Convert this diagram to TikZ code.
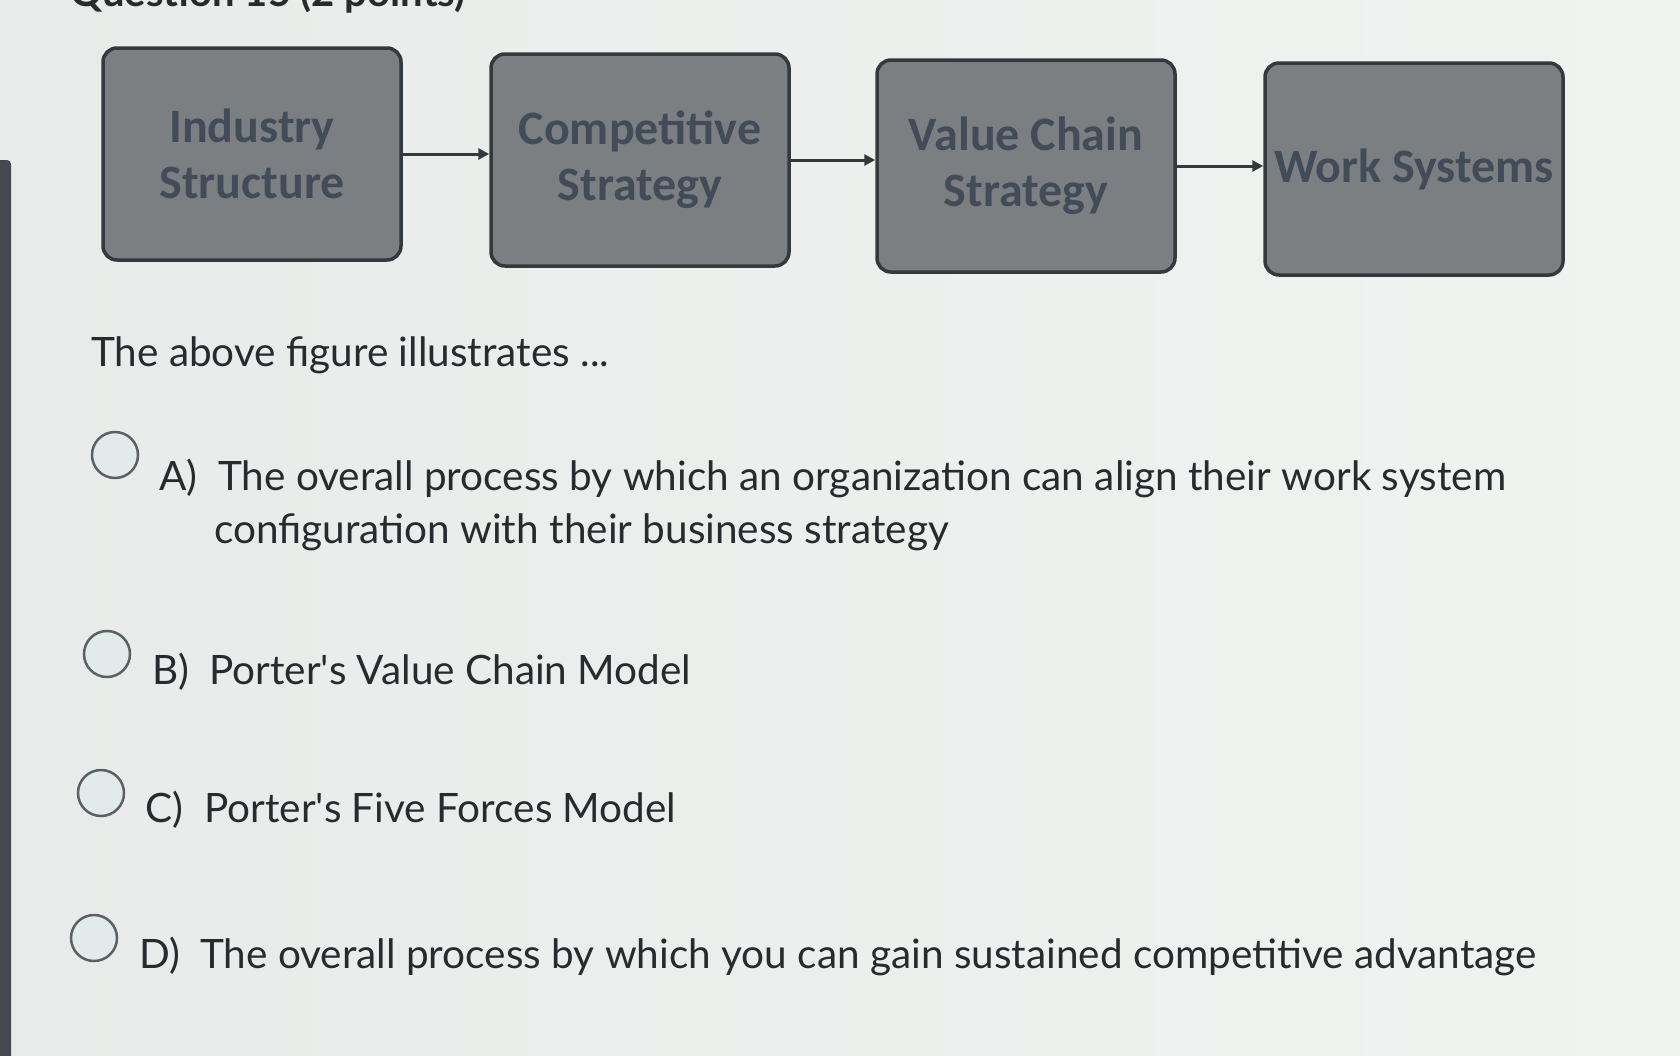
\documentclass[tikz,border=0pt]{standalone}
\usepackage{fontspec}
\setmainfont{Lato}
\newfontfamily\boxfont{Carlito}
\usetikzlibrary{arrows.meta,positioning}
\definecolor{screen}{RGB}{232,235,233}
\definecolor{screenlight}{RGB}{240,244,241}
\definecolor{stagefill}{RGB}{124,127,130}
\definecolor{stageline}{RGB}{52,57,62}
\definecolor{stagetext}{RGB}{66,76,88}
\definecolor{ink}{RGB}{40,42,46}
\definecolor{radioline}{RGB}{92,96,100}
\definecolor{radiofill}{RGB}{226,234,234}
\definecolor{edgebar}{RGB}{70,74,80}

\begin{document}
\begin{tikzpicture}[x=1pt,y=-1pt,
   stage/.style={draw=stageline,fill=stagefill,line width=3.5pt,rounded corners=14pt,
     minimum width=298pt,minimum height=212pt,align=center,text=stagetext,inner sep=0pt,
     font=\boxfont\bfseries\fontsize{48}{56}\selectfont},
   link/.style={draw=stageline,line width=3pt,-{Triangle[length=11pt,width=11pt]}},
   radio/.style={circle,draw=radioline,fill=radiofill,line width=2.5pt,minimum size=46pt,inner sep=0pt},
   answer/.style={anchor=base west,inner sep=0pt,text=ink,font=\fontsize{40.5}{48}\selectfont}]
\useasboundingbox (0,0) rectangle (1680,1055);
\clip (0,0) rectangle (1680,1055);
\shade[left color=screen,right color=screenlight] (0,0) rectangle (1680,1055);
\fill[edgebar,rounded corners=4pt] (-6,160) rectangle (11,1070);

\node[anchor=base west,inner sep=0pt,text=ink,font=\bfseries\fontsize{40}{46}\selectfont] (title) at (70,6) {Question 15 (2 points)};

\node[stage] (industry) at (252,154) {Industry\\Structure};
\node[stage] (competitive) at (640,160) {Competitive\\Strategy};
\node[stage] (valuechain) at (1026,166) {Value Chain\\Strategy};
\node[stage] (worksys) at (1414,169) {Work Systems};

\draw[link] (industry.east) -- (industry.east -| competitive.west);
\draw[link] (competitive.east) -- (competitive.east -| valuechain.west);
\draw[link] (valuechain.east) -- (valuechain.east -| worksys.west);

\node[answer] (question) at (91,366) {The above figure illustrates ...};

\node[radio] (ra) at (115,455) {};
\node[answer] (la) at (159,490) {A)};
\node[answer] (ta) at (218,490) {The overall process by which an organization can align their work system};
\node[answer] (ta2) at (214,543) {configuration with their business strategy};

\node[radio] (rb) at (107,654) {};
\node[answer] (lb) at (152,684) {B)};
\node[answer] (tb) at (209,684) {Porter\textquotesingle s Value Chain Model};

\node[radio] (rc) at (101,793) {};
\node[answer] (lc) at (145,822) {C)};
\node[answer] (tc) at (204,822) {Porter\textquotesingle s Five Forces Model};

\node[radio] (rd) at (94,938) {};
\node[answer] (ld) at (139,968) {D)};
\node[answer] (td) at (200,968) {The overall process by which you can gain sustained competitive advantage};
\end{tikzpicture}
\end{document}
